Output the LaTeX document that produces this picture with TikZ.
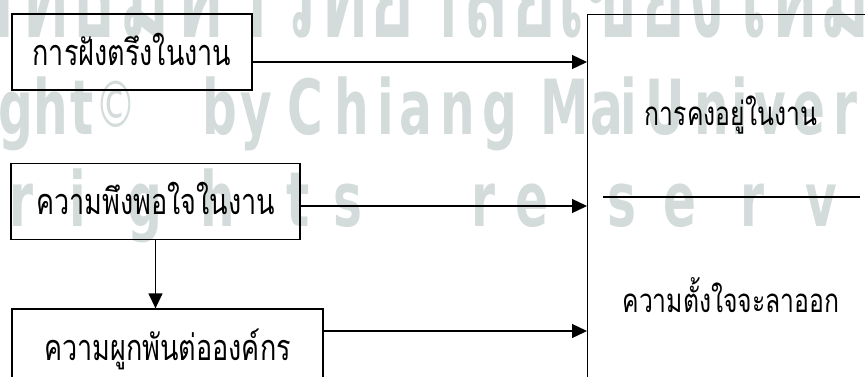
\documentclass[tikz,border=0pt]{standalone}
\usepackage{fontspec}
\usetikzlibrary{arrows.meta}
\newfontfamily\thaifont[Script=Thai,FakeStretch=0.75]{Loma}
\newfontfamily\wmthai[Script=Thai,FakeStretch=0.62]{Loma}
\newfontfamily\wmlatin[FakeStretch=0.64]{DejaVu Sans}
\definecolor{wm}{RGB}{212,219,219}
\tikzset{
  box/.style={draw, line width=1.3pt, inner sep=0pt, minimum height=76pt,
    text height=26pt, text depth=0pt, font=\thaifont\fontsize{36}{40}\selectfont},
  lbl/.style={inner sep=0pt, anchor=base, font=\thaifont\fontsize{33}{36}\selectfont},
  arr/.style={line width=1.3pt, -{Triangle[length=15pt,width=14pt]}},
  wmletter/.style={text=wm, inner sep=0pt, anchor=base, font=\wmlatin\bfseries\fontsize{76}{78}\selectfont},
}
\begin{document}
\begin{tikzpicture}[x=1pt,y=-1pt]
\useasboundingbox (0,0) rectangle (865,376);
\clip (0,0) rectangle (865,376);
% watermark (faint, behind the diagram)
\node[text=wm, inner sep=0pt, anchor=base east, font=\wmthai\bfseries\fontsize{130}{134}\selectfont] (w0) at (872,37) {ลิขสิทธิ์มหาวิทยาลัยเชียงใหม่};
\foreach \ch/\xx [count=\k] in {g/16, h/51, t/82, b/220, y/256, C/305, h/352, i/386, a/416, n/458, g/500, M/565, a/607, i/629, U/665, n/712, i/740, v/770, e/809, r/845}
  \node[wmletter] (wb\k) at (\xx,134) {\ch};
\node[wmletter, font=\wmlatin\fontsize{64}{66}\selectfont] (wc) at (116,127) {©};
\foreach \ch/\xx [count=\k] in {r/21, i/78, g/145, h/218, t/298, s/348, r/483, e/532, s/622, e/680, r/752, v/821}
  \node[wmletter] (wr\k) at (\xx,226) {\ch};
% diagram
\node[box, minimum width=240pt] (n1) at (132,52) {การฝังตรึงในงาน};
\node[box, minimum width=289pt] (n2) at (155.5,201.5) {ความพึงพอใจในงาน};
\node[box, minimum width=311pt] (n3) at (167.5,347) {ความผูกพันต่อองค์กร};
\node[draw, line width=1.3pt, inner sep=0pt, anchor=north west,
  minimum width=300pt, minimum height=400pt] (big) at (587,14) {};
\node[lbl] (t1) at (731,125) {การคงอยู่ในงาน};
\node[lbl] (t2) at (731,312) {ความตั้งใจจะลาออก};
\coordinate (d1) at (603,197);
\coordinate (d2) at (860,197);
\draw[line width=1.3pt] (d1) -- (d2);
\draw[arr] ([yshift=-10pt]n1.east) -- ([yshift=-10pt]n1.east -| big.west);
\draw[arr] ([yshift=-4.5pt]n2.east) -- ([yshift=-4.5pt]n2.east -| big.west);
\draw[arr] ([yshift=16pt]n3.east) -- ([yshift=16pt]n3.east -| big.west);
\draw[arr] (n2.south) -- (n2.south |- n3.north);
\end{tikzpicture}
\end{document}
